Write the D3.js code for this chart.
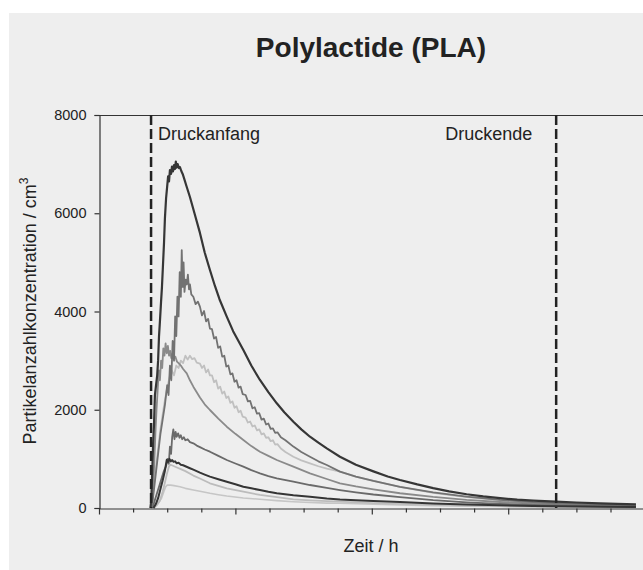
<!DOCTYPE html>
<html>
<head>
<meta charset="utf-8">
<script src="https://cdn.jsdelivr.net/npm/d3@7"></script>
<style>
  html, body { margin: 0; padding: 0; background: #fff; }
  svg { display: block; font-family: "Liberation Sans", Arial, sans-serif; }
</style>
</head>
<body>
<svg id="chart" width="643" height="570"></svg>
<script>
// values: [minute, particles / cm3]
var serieDark = [[22.6,0],[23.0,150],[23.4,700],[23.8,1300],[24.2,1700],[24.6,2300],[25.1,2500],[25.6,2700],[26.0,3000],[26.4,3500],[26.8,3800],[27.3,4200],[27.7,4500],[28.1,4900],[28.6,5400],[29.0,5900],[29.5,6300],[29.9,6500],[30.4,6750],[30.8,6650],[31.2,6880],[31.7,6800],[32.1,6950],[32.5,6850],[33.0,6980],[33.4,6900],[33.8,7050],[34.2,6930],[34.6,7000],[35.2,6920],[35.6,6940],[36.2,6860],[36.8,6800],[37.5,6700],[38.5,6550],[40.0,6330],[42.0,6000],[44.4,5600],[46.5,5200],[48.8,4845],[51.0,4520],[53.0,4250],[56.2,3895],[59.0,3600],[63.5,3216],[67.0,2900],[70.8,2606],[74.5,2360],[78.2,2131],[81.5,1950],[85.5,1757],[89.0,1600],[92.8,1451],[96.5,1330],[100.2,1215],[106.0,1044],[113.0,880],[120.7,745],[127.0,640],[132.4,570],[140.0,480],[147.0,405],[154.0,340],[161.7,280],[169.0,235],[176.4,200],[184.0,170],[191.0,150],[201.0,128],[210.0,112],[220.4,96],[228.0,85],[236.2,75]];

var serieMid = [[23.2,0],[24.0,300],[25.0,700],[26.0,1100],[27.0,1500],[28.0,1800],[29.0,2100],[30.0,2500],[30.6,2300],[31.2,2900],[31.8,2600],[32.4,3400],[33.0,3000],[33.5,3900],[34.0,3500],[34.5,4300],[35.0,3900],[35.5,4800],[36.0,4300],[36.4,5250],[36.8,4500],[37.2,5000],[37.6,4400],[38.1,4650],[38.6,4550],[39.1,4750],[39.6,4450],[40.0,4550],[40.6,4350],[41.5,4300],[42.5,4150],[43.5,4200],[44.4,4100],[45.3,3920],[46.2,4010],[47.1,3800],[48.0,3850],[48.8,3650],[49.7,3640],[50.6,3450],[51.5,3480],[52.4,3260],[53.3,3290],[54.2,3080],[55.1,3100],[56.0,2880],[56.9,2900],[57.8,2720],[58.7,2740],[59.6,2570],[60.5,2600],[61.4,2450],[62.3,2470],[63.2,2320],[64.5,2300],[65.5,2170],[66.5,2180],[67.5,2030],[68.5,2050],[69.5,1920],[70.5,1930],[71.5,1800],[72.5,1820],[73.5,1700],[74.5,1720],[75.5,1610],[76.5,1620],[77.5,1530],[78.5,1540],[80.0,1440],[82.0,1380],[85.5,1250],[89.0,1140],[92.8,1044],[96.5,950],[100.2,875],[106.0,740],[113.0,640],[120.7,550],[132.4,430],[147.0,320],[161.7,230],[176.4,165],[191.0,120],[201.0,100],[220.4,70],[236.2,50]];

var serieLight = [[23.0,0],[24.0,400],[25.0,800],[26.0,1200],[27.0,1600],[28.0,1900],[29.0,2200],[30.0,2450],[31.0,2650],[32.0,2800],[33.0,2700],[34.0,2900],[35.0,2850],[36.0,3000],[37.0,2950],[38.0,3100],[39.0,3020],[40.0,3100],[41.0,3030],[42.0,3050],[43.0,2960],[44.4,2940],[45.3,2850],[46.2,2900],[47.1,2760],[48.0,2820],[48.8,2700],[49.7,2700],[50.6,2560],[51.5,2600],[52.4,2430],[53.3,2470],[54.2,2330],[55.1,2370],[56.0,2240],[56.9,2270],[57.8,2140],[58.7,2170],[59.6,2040],[60.5,2070],[61.4,1950],[62.3,1980],[63.2,1860],[64.5,1840],[65.5,1740],[66.5,1760],[67.5,1660],[68.5,1680],[69.5,1580],[70.5,1600],[71.5,1500],[72.5,1520],[73.5,1430],[74.5,1440],[75.5,1360],[76.5,1380],[77.5,1290],[78.5,1300],[80.0,1210],[82.0,1140],[85.5,1044],[89.0,970],[92.8,910],[96.5,850],[100.2,800],[106.0,740],[113.0,640],[120.7,550],[132.4,430],[147.0,310],[161.7,220],[176.4,160],[191.0,115],[201.0,95],[220.4,65],[236.2,45]];

var serieEarly = [[23.3,0],[23.8,400],[24.3,900],[24.8,1500],[25.3,2000],[25.8,2400],[26.3,2800],[26.8,2600],[27.3,3000],[27.8,2850],[28.3,3250],[28.8,3100],[29.3,3350],[29.8,3150],[30.3,3300],[30.8,3100],[31.3,3200],[31.8,3050],[32.4,3150],[33.0,3050],[33.6,3080],[34.3,2980],[35.0,2950],[36.0,2900],[37.0,2830],[38.6,2740],[40.0,2600],[41.5,2470],[44.4,2250],[46.5,2110],[48.8,1995],[52.5,1820],[56.2,1655],[60.0,1510],[63.5,1384],[67.0,1260],[70.8,1146],[74.5,1060],[78.2,977],[85.5,841],[92.8,706],[100.2,590],[106.0,503],[113.0,440],[120.7,380],[132.4,300],[147.0,225],[161.7,165],[176.4,122],[191.0,92],[201.0,78],[220.4,55],[236.2,40]];

var serieSmallMid = [[23.6,0],[24.5,150],[25.5,300],[26.5,450],[27.5,600],[28.5,750],[29.5,850],[30.2,1000],[30.7,900],[31.2,1250],[31.7,1100],[32.2,1450],[32.7,1600],[33.2,1400],[33.7,1550],[34.2,1450],[34.8,1520],[35.4,1430],[36.0,1480],[36.6,1400],[37.3,1440],[38.0,1380],[39.0,1400],[40.0,1340],[41.5,1316],[43.0,1270],[44.4,1240],[46.5,1190],[48.8,1146],[52.5,1060],[56.2,977],[60.0,905],[63.5,841],[67.0,770],[70.8,706],[74.5,650],[78.2,604],[85.5,536],[92.8,468],[100.2,410],[106.0,366],[113.0,320],[120.7,275],[132.4,220],[147.0,160],[161.7,115],[176.4,85],[191.0,65],[201.0,55],[220.4,40],[236.2,30]];

var serieSmallDark = [[24.0,0],[25.0,80],[26.0,200],[27.0,380],[28.0,560],[29.0,760],[29.8,980],[30.4,940],[31.0,1000],[31.6,950],[32.2,975],[32.8,940],[33.5,950],[34.2,910],[35.0,920],[36.0,880],[37.0,870],[38.5,840],[40.0,810],[41.5,780],[44.4,720],[46.5,680],[48.8,638],[52.5,585],[56.2,536],[60.0,485],[63.5,434],[67.0,400],[70.8,366],[74.5,330],[78.2,299],[85.5,260],[92.8,231],[100.2,195],[106.0,175],[113.0,160],[120.7,145],[132.4,120],[147.0,92],[161.7,70],[176.4,54],[191.0,42],[201.0,35],[220.4,26],[236.2,20]];

var serieSmallLight = [[24.0,0],[25.5,60],[26.8,150],[28.0,330],[29.0,520],[30.0,720],[30.8,850],[31.5,880],[32.5,860],[34.0,830],[36.0,790],[38.0,750],[41.5,660],[44.4,600],[48.8,503],[52.5,450],[56.2,401],[63.5,332],[70.8,265],[78.2,220],[85.5,177],[92.8,155],[100.2,138],[106.0,128],[120.7,100],[132.4,85],[147.0,65],[161.7,50],[176.4,38],[191.0,30],[201.0,25],[220.4,18],[236.2,14]];

var serieLowest = [[23.0,0],[24.5,40],[26.0,100],[27.5,200],[28.5,330],[29.3,430],[30.0,468],[31.5,465],[33.0,455],[35.6,434],[38.0,400],[41.5,366],[44.4,340],[48.8,299],[52.5,270],[56.2,244],[63.5,205],[70.8,177],[78.2,150],[85.5,128],[92.8,112],[100.2,100],[106.0,96],[120.7,75],[132.4,62],[147.0,48],[161.7,38],[176.4,30],[191.0,24],[201.0,20],[220.4,15],[236.2,12]];

var yTicks = [0, 2000, 4000, 6000, 8000];
var xTicks = d3.range(0, 241, 15);
var markers = [{t: 22.9, label: "Druckanfang"}, {t: 201.1, label: "Druckende"}];

var series = [
  {data: serieLowest, color: "#c6c6c6", w: 1.6},
  {data: serieSmallLight, color: "#bcbcbc", w: 1.8},
  {data: serieLight, color: "#c0c0c0", w: 1.8},
  {data: serieEarly, color: "#8a8a8a", w: 1.8},
  {data: serieSmallMid, color: "#6a6a6a", w: 1.8},
  {data: serieMid, color: "#727272", w: 1.8},
  {data: serieSmallDark, color: "#353535", w: 2},
  {data: serieDark, color: "#363636", w: 2.2}
];

var svg = d3.select("#chart");

svg.append("rect").attr("x", 9).attr("y", 13).attr("width", 643).attr("height", 570).attr("fill", "#eeeeee");

var x = d3.scaleLinear().domain([0, 240]).range([99, 644.6]);
var y = d3.scaleLinear().domain([0, 8000]).range([508, 115]);

svg.append("text")
  .attr("x", 371).attr("y", 57)
  .attr("text-anchor", "middle")
  .attr("font-size", 28).attr("font-weight", "bold")
  .attr("fill", "#222")
  .text("Polylactide (PLA)");

// curves
var line = d3.line().x(function(d){return x(d[0]);}).y(function(d){return y(d[1]);});
svg.append("g").selectAll("path").data(series).enter().append("path")
  .attr("d", function(s){return line(s.data);})
  .attr("fill", "none")
  .attr("stroke", function(s){return s.color;})
  .attr("stroke-width", function(s){return s.w;})
  .attr("stroke-linejoin", "round");

// frame: top line
svg.append("line").attr("x1", 99).attr("x2", 643).attr("y1", 115.5).attr("y2", 115.5)
  .attr("stroke", "#333").attr("stroke-width", 1.2);

// y axis
var axisY = svg.append("g").attr("transform", "translate(99.5,0)")
  .call(d3.axisLeft(y).tickValues(yTicks).tickSize(5).tickPadding(8).tickFormat(d3.format("d")));
axisY.select(".domain").attr("stroke", "#333").attr("stroke-width", 1.2);
axisY.selectAll(".tick line").attr("stroke", "#333").attr("stroke-width", 1.2);
axisY.selectAll(".tick text").attr("font-size", 14.5).attr("fill", "#222")
  .attr("font-family", "Liberation Sans, Arial, sans-serif");

// x axis, no labels, longer tick every hour
var axisX = svg.append("g").attr("transform", "translate(0,508.5)")
  .call(d3.axisBottom(x).tickValues(xTicks).tickSizeOuter(0).tickFormat(""));
axisX.select(".domain").attr("stroke", "#333").attr("stroke-width", 1.2);
axisX.selectAll(".tick line").attr("stroke", "#333").attr("stroke-width", 1.2)
  .attr("y2", function(d){return d % 60 === 0 ? 6 : 4;});

// print start / end markers
var mk = svg.append("g").selectAll("g").data(markers).enter().append("g");
mk.append("line")
  .attr("x1", function(d){return x(d.t);}).attr("x2", function(d){return x(d.t);})
  .attr("y1", 115).attr("y2", 508)
  .attr("stroke", "#222").attr("stroke-width", 2.5).attr("stroke-dasharray", "10,4");
mk.append("text")
  .attr("x", function(d,i){return i === 0 ? x(d.t) + 7 : x(d.t) - 111;})
  .attr("y", 140)
  .attr("font-size", 18).attr("fill", "#222")
  .text(function(d){return d.label;});

svg.append("text")
  .attr("x", 371).attr("y", 552)
  .attr("text-anchor", "middle")
  .attr("font-size", 18).attr("fill", "#222")
  .text("Zeit / h");

var yl = svg.append("text")
  .attr("transform", "translate(36,311) rotate(-90)")
  .attr("text-anchor", "middle")
  .attr("font-size", 18).attr("fill", "#222");
yl.append("tspan").text("Partikelanzahlkonzentration / cm");
yl.append("tspan").attr("font-size", 12).attr("dy", -8).text("3");
</script>
</body>
</html>
